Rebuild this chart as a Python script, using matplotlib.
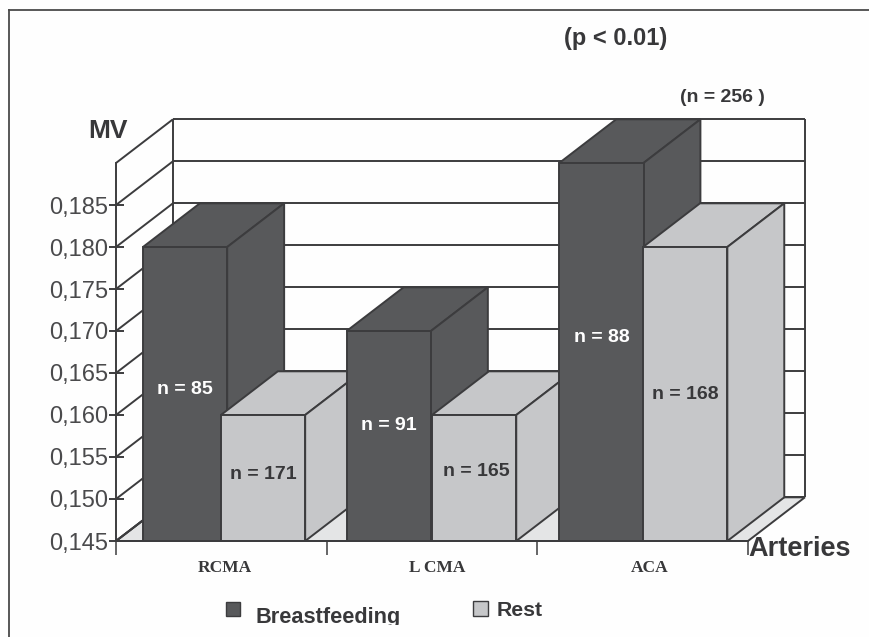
import matplotlib
matplotlib.use("Agg")
import matplotlib.pyplot as plt
from matplotlib.patches import Polygon, Patch, Rectangle
from matplotlib.lines import Line2D

# ---- data ----
categories = ["RCMA", "L CMA", "ACA"]
breastfeeding = [0.180, 0.170, 0.190]
rest = [0.160, 0.160, 0.180]
n_breastfeeding = ["n = 85", "n = 91", "n = 88"]
n_rest = ["n = 171", "n = 165", "n = 168"]
y_ticks = [0.145, 0.150, 0.155, 0.160, 0.165, 0.170, 0.175, 0.180, 0.185]
y_tick_labels = ["0,145", "0,150", "0,155", "0,160", "0,165", "0,170", "0,175", "0,180", "0,185"]
grid_levels = y_ticks + [0.190]

# ---- layout / style ----
W, H = 870, 637
DARK, LIGHT, FLOOR, LINE, TXT = "#58595b", "#c6c7c9", "#e4e5e6", "#3c3c3e", "#38383a"
LW = 1.4
Y0, Y1 = 0.145, 0.190
DX, DY = 57 / 211, 0.0052       # oblique depth, in data units
BAR_W = 0.40
dark_left = [0.128, 0.095, 0.104]
light_left = [0.498, 0.500, 0.502]
dark_label_y = [0.1630, 0.1588, 0.1692]
light_label_y = [0.1529, 0.1533, 0.1624]
dark_label_dx = [0.20, 0.20, 0.20]
light_label_dx = [0.20, 0.21, 0.20]
cat_label_x = [0.517, 1.526, 2.531]

plt.rcParams["font.family"] = ["Liberation Sans", "DejaVu Sans"]
fig = plt.figure(figsize=(W / 100, H / 100), dpi=100, facecolor="#fefefe")
ax = fig.add_axes([116 / W, 1 - 541 / H, (748 - 116) / W, (541 - 163) / H])
ax.set_xlim(0, 3)
ax.set_ylim(Y0, Y1)
ax.patch.set_visible(False)

z = 1.0
def poly(pts, face, edge=LINE, lw=LW):
    global z
    z += 0.01
    ax.add_patch(Polygon(pts, closed=True, facecolor=face, edgecolor=edge, lw=lw,
                         clip_on=False, zorder=z, joinstyle="miter"))

def seg(xs, ys, lw=LW, color=LINE):
    global z
    z += 0.01
    ax.plot(xs, ys, color=color, lw=lw, clip_on=False, zorder=z, solid_capstyle="butt")

# floor
poly([(0, Y0), (3, Y0), (3 + DX, Y0 + DY), (DX, Y0 + DY)], FLOOR)
# back wall and side wall
seg([DX, DX], [Y0 + DY, Y1 + DY])
seg([3 + DX, 3 + DX], [Y0 + DY, Y1 + DY])
for v in grid_levels:
    seg([DX, 3 + DX], [v + DY, v + DY])
    seg([0, DX], [v, v + DY])
seg([0, DX], [Y0, Y0 + DY])

def bar3d(x, v, color):
    global z
    poly([(x, v), (x + BAR_W, v), (x + BAR_W + DX, v + DY), (x + DX, v + DY)], color)
    poly([(x + BAR_W, Y0), (x + BAR_W + DX, Y0 + DY), (x + BAR_W + DX, v + DY), (x + BAR_W, v)], color)
    z += 0.01
    ax.bar(x, v - Y0, BAR_W, bottom=Y0, align="edge", color=color, edgecolor=LINE,
           lw=LW, clip_on=False, zorder=z)

for i in range(len(categories)):
    bar3d(i + dark_left[i], breastfeeding[i], DARK)
    bar3d(i + light_left[i], rest[i], LIGHT)

for i in range(len(categories)):
    ax.text(i + dark_left[i] + dark_label_dx[i], dark_label_y[i], n_breastfeeding[i], color="white",
            fontsize=14, fontweight="bold", ha="center", va="center", zorder=5)
    ax.text(i + light_left[i] + light_label_dx[i], light_label_y[i], n_rest[i], color=TXT,
            fontsize=14, fontweight="bold", ha="center", va="center", zorder=5)

# axes
for s in ("top", "right"):
    ax.spines[s].set_visible(False)
for s in ("left", "bottom"):
    ax.spines[s].set_color(LINE)
    ax.spines[s].set_linewidth(LW)
    ax.spines[s].set_zorder(4)
ax.set_yticks(y_ticks)
ax.set_yticklabels(y_tick_labels, fontsize=17, color="#4a4a4c")
ax.tick_params(axis="y", direction="inout", length=10.8, width=LW, color=LINE, pad=0)
ax.set_xticks([0, 1, 2, 3])
ax.set_xticklabels([])
ax.tick_params(axis="x", which="major", direction="out", length=10, width=1.1, color=LINE)
ax.set_xticks(cat_label_x, minor=True)
ax.set_xticklabels(categories, minor=True, fontsize=12.5, fontweight="bold",
                   family="Liberation Serif", color=TXT)
ax.tick_params(axis="x", which="minor", length=0, pad=14)

# free text, in pixel-based figure coordinates
def ftext(px, py, s, **kw):
    fig.text(px / W, 1 - py / H, s, va="center", fontweight="bold", color=TXT, **kw)

ftext(108, 131, "MV", fontsize=19, ha="center")
ftext(615.5, 38, "(p < 0.01)", fontsize=17, ha="center")
ftext(722, 97, "(n = 256 )", fontsize=14, ha="center")
ftext(800, 549, "Arteries", fontsize=19.5, ha="center", zorder=6)

# legends
leg_bf = fig.legend(handles=[Patch(facecolor=DARK, edgecolor=LINE, lw=1)], labels=["Breastfeeding"],
                    loc="center left", bbox_to_anchor=(226 / W, 1 - 617 / H), frameon=False,
                    fontsize=15.7, handlelength=0.62, handleheight=0.62, handletextpad=0.75,
                    borderpad=0, borderaxespad=0, labelcolor=TXT)
leg_rest = fig.legend(handles=[Patch(facecolor=LIGHT, edgecolor=LINE, lw=1)], labels=["Rest"],
                      loc="center left", bbox_to_anchor=(473 / W, 1 - 610 / H), frameon=False,
                      fontsize=15.3, handlelength=0.7, handleheight=0.7, handletextpad=0.4,
                      borderpad=0, borderaxespad=0, labelcolor=TXT)
for leg in (leg_bf, leg_rest):
    for t in leg.get_texts():
        t.set_fontweight("bold")
    leg.set_zorder(6)
# the square sits higher than the label in the reference
handle = leg_bf.legend_handles[0]
handle.set_y(handle.get_y() + 4.5)

# the scan cuts the descender of the legend text
fig.add_artist(Rectangle((250 / W, 0), 160 / W, (H - 625) / H, transform=fig.transFigure,
                         facecolor="#fefefe", edgecolor="none", zorder=7))
# scan frame
fig.add_artist(Line2D([9 / W, 9 / W], [0, 1 - 10 / H], color="#4a4a4a", lw=1.3, zorder=8))
fig.add_artist(Line2D([9 / W, 1], [1 - 10 / H, 1 - 10 / H], color="#4a4a4a", lw=1.3, zorder=8))

fig.savefig("out.png", dpi=100, facecolor=fig.get_facecolor())
